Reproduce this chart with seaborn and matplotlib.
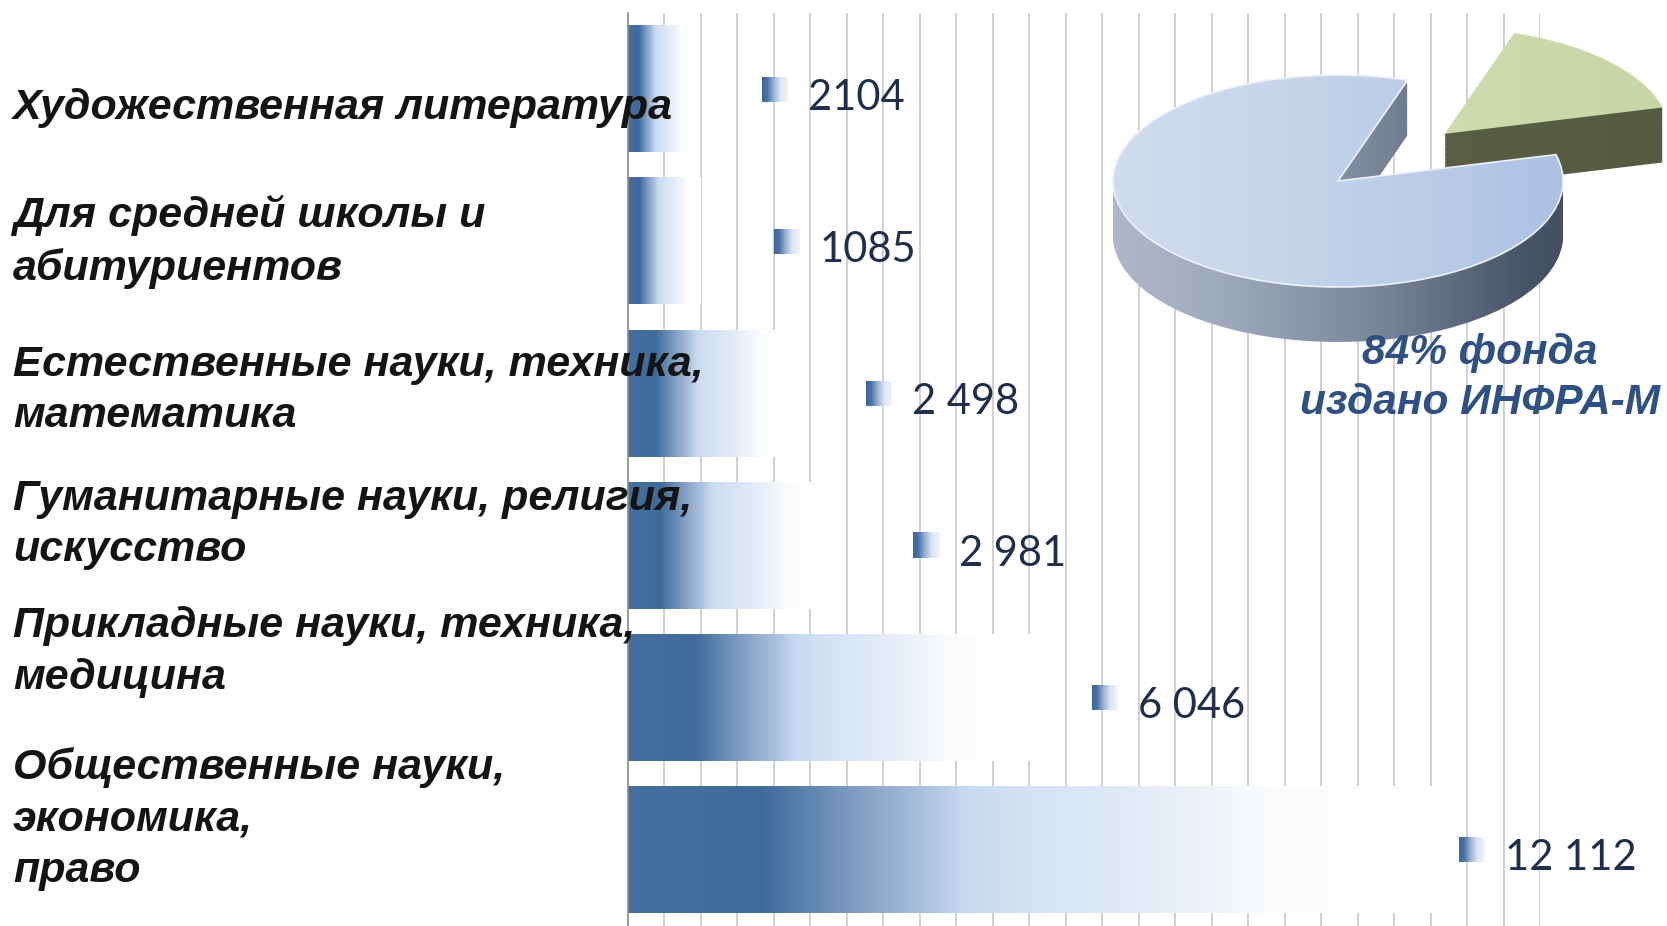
import numpy as np
import pandas as pd
import matplotlib
matplotlib.use("Agg")
import matplotlib.pyplot as plt
import matplotlib.transforms as mtransforms
from matplotlib.colors import LinearSegmentedColormap
import seaborn as sns

# ---------------- data ----------------
categories = [
    "Художественная литература",
    "Для средней школы и\nабитуриентов",
    "Естественные науки, техника,\nматематика",
    "Гуманитарные науки, религия,\nискусство",
    "Прикладные науки, техника,\nмедицина",
    "Общественные науки,\nэкономика,\nправо",
]
bar_values = [980, 1085, 2498, 2981, 6046, 12112]          # bar lengths as drawn
value_labels = ["2104", "1085", "2 498", "2 981", "6 046", "12 112"]
pie_shares = [84, 16]
pie_text = "84% фонда\nиздано ИНФРА-М"

# ---------------- layout (pixels) ----------------
W, H = 1667, 926
label_dy_px = [19, 1, -3, -21, -46, -31]      # category label offset from bar centre
label_gap_px = [68, 73, 70, 85, 58, 17]        # data-label marker offset from bar end

sns.set_style("white")
plt.rcParams["font.family"] = ["Liberation Sans", "DejaVu Sans"]

fig = plt.figure(figsize=(W / 100, H / 100), dpi=100)
ax_l, ax_r, ax_t, ax_b = 628, 1540, 13, 926
ax = fig.add_axes([ax_l / W, 1 - ax_b / H, (ax_r - ax_l) / W, (ax_b - ax_t) / H])

px_per_unit = (1442 - 628) / max(bar_values)
xmax = (ax_r - ax_l) / px_per_unit
step = xmax / 25
ppu_y = (ax_b - ax_t) / len(categories)

df = pd.DataFrame({"cat": categories, "val": bar_values})
sns.barplot(data=df, x="val", y="cat", orient="h", ax=ax, width=0.83,
            color="#3F6A9A", saturation=1)

bar_cmap = LinearSegmentedColormap.from_list("bar", [
    (0.00, "#44709F"), (0.16, "#3F6A9A"), (0.24, "#6A8DB7"), (0.30, "#8CA7C9"),
    (0.36, "#A9BFDD"), (0.41, "#C8D9EF"), (0.50, "#D6E3F4"), (0.63, "#E2EBF7"),
    (0.71, "#EEF3FA"), (0.79, "#FAFCFE"), (1.00, "#FFFFFF")])
mark_cmap = LinearSegmentedColormap.from_list("mark", [
    (0.0, "#3B659A"), (0.2, "#4A73A5"), (0.45, "#9AB2D3"), (0.7, "#DCE5F1"), (1.0, "#F2F5F9")])
grad = np.linspace(0, 1, 256).reshape(1, -1)

for p in ax.patches:
    x0, y0, w, h = p.get_x(), p.get_y(), p.get_width(), p.get_height()
    ax.imshow(grad, cmap=bar_cmap, extent=(x0, x0 + w, y0 + h, y0),
              aspect="auto", interpolation="bilinear", zorder=2)
    p.set_visible(False)

# data labels with small gradient key
for i, (v, lab, gap) in enumerate(zip(bar_values, value_labels, label_gap_px)):
    mx = v + gap / px_per_unit
    mw = 26 / px_per_unit
    mh = 12.5 / ppu_y
    ax.imshow(grad, cmap=mark_cmap, extent=(mx, mx + mw, i + mh, i - mh),
              aspect="auto", interpolation="bilinear", zorder=3)
    ax.text(mx + 46 / px_per_unit, i + 20.5 / ppu_y, lab, ha="left", va="baseline",
            fontsize=30, color="#1F2F4B", family=["Lato", "DejaVu Sans"], zorder=4)

# category labels (left aligned at the figure edge)
trans = mtransforms.blended_transform_factory(fig.transFigure, ax.transData)
for i, (cat, dy) in enumerate(zip(categories, label_dy_px)):
    ax.text(13 / W, i + dy / ppu_y, cat, transform=trans, ha="left", va="center",
            fontsize=31, fontweight="bold", fontstyle="italic", color="#141414",
            linespacing=1.38, zorder=6, clip_on=False)

ax.set_xlim(0, xmax)
ax.set_ylim(len(categories) - 0.5, -0.5)
ax.set_xticks(np.arange(0, xmax + step * 0.5, step))
ax.set_xticklabels([])
ax.set_yticks([])
ax.tick_params(length=0)
ax.set_xlabel("")
ax.set_ylabel("")
ax.grid(axis="x", color="#C4C4C4", linewidth=1.1)
ax.grid(axis="y", visible=False)
ax.set_axisbelow(True)
for s in ["top", "right", "bottom"]:
    ax.spines[s].set_visible(False)
ax.spines["left"].set_color("#8C8C8C")
ax.spines["left"].set_linewidth(1.2)
ax.patch.set_alpha(0)

# ---------------- 3D-looking pie ----------------
pl, pr, pt, pb = 1080, 1667, 10, 380
cx, cy, rx, ry = 1338, 181, 225, 106
axp = fig.add_axes([pl / W, 1 - pb / H, (pr - pl) / W, (pb - pt) / H])
thick = 55 / ry
n_layers = 45

side_big = LinearSegmentedColormap.from_list("sb", ["#B3BDCD", "#A0AABD", "#7D879C", "#4A5468", "#39414F"])
side_small = LinearSegmentedColormap.from_list("ss", ["#5E644A", "#555B41"])
top_big = LinearSegmentedColormap.from_list("tb", ["#D4DEEF", "#C8D5EB", "#B6C8E7", "#A0B8E2"])
top_small = LinearSegmentedColormap.from_list("ts", ["#DAE6C0", "#D0DEB0", "#C8D6A6"])
ext = (-1.2, 1.5, -1.9, 1.7)
gradp = np.linspace(0, 1, 256).reshape(1, -1)

def pie_layer(t):
    wedges, _ = axp.pie(pie_shares, startangle=72, explode=[0, 0.65], center=(0, -t),
                        radius=1, wedgeprops=dict(linewidth=0))
    for w in wedges:
        w.set_facecolor("none")
        w.set_edgecolor("none")
    return wedges

layers = [pie_layer(t) for t in np.linspace(thick, 0, n_layers)]
# small (far) slice first, then big slice
for idx, (scm, tcm, zbase) in [(1, (side_small, top_small, 1)), (0, (side_big, top_big, 3))]:
    for k, wedges in enumerate(layers):
        last = k == len(layers) - 1
        cm = tcm if last else scm
        im = axp.imshow(gradp, cmap=cm, extent=ext, aspect="auto",
                        interpolation="bilinear", zorder=zbase + (1 if last else k * 0.001))
        im.set_clip_path(wedges[idx])
    if idx == 0:
        top = layers[-1][0]
        top.set_edgecolor("#EEF2F8")
        top.set_linewidth(1.2)
        top.set_zorder(zbase + 1.5)

axp.set_aspect("auto")
axp.set_xlim((pl - cx) / rx, (pr - cx) / rx)
axp.set_ylim((cy - pb) / ry, (cy - pt) / ry)
axp.axis("off")

fig.text(1480 / W, 1 - 378 / H, pie_text, ha="center", va="center", fontsize=30.5,
         fontweight="bold", fontstyle="italic", color="#2F5082", linespacing=1.3)

fig.savefig("out.png", dpi=100, facecolor="white")
